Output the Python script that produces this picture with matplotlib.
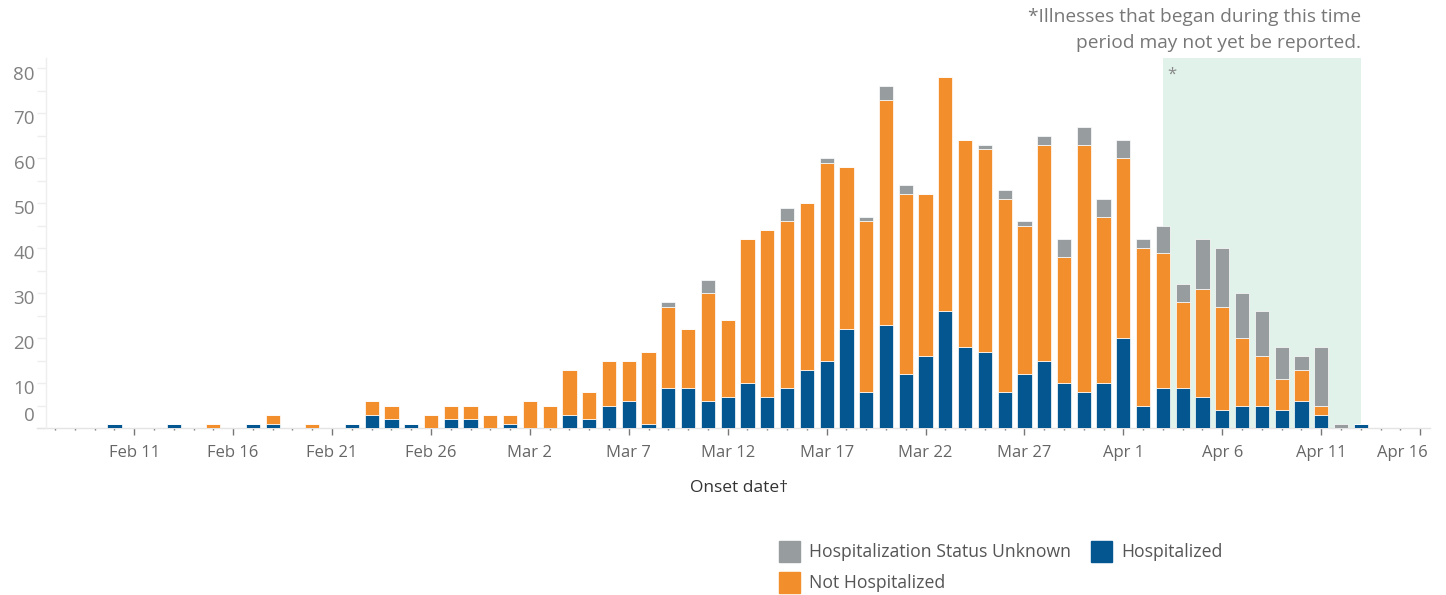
import matplotlib
matplotlib.use("Agg")
import matplotlib.pyplot as plt
import matplotlib.dates as mdates
import matplotlib.transforms as mtransforms
from matplotlib.patches import Rectangle
import numpy as np
import pandas as pd

plt.rcParams["font.family"] = ["Open Sans", "DejaVu Sans"]

# onset dates, Feb 10 .. Apr 13 2020
dates = pd.date_range("2020-02-10", "2020-04-13", freq="D")

hospitalized = [
    1, 0, 0, 1, 0, 0, 0, 1, 1, 0, 0, 0, 1, 3, 2, 1, 0, 2, 2, 0,            # Feb 10-29
    1, 0, 0, 3, 2, 5, 6, 1, 9, 9, 6, 7, 10, 7, 9, 13, 15, 22, 8, 23,       # Mar 1-20
    12, 16, 26, 18, 17, 8, 12, 15, 10, 8, 10,                             # Mar 21-31
    20, 5, 9, 9, 7, 4, 5, 5, 4, 6, 3, 0, 1,                                # Apr 1-13
]
not_hospitalized = [
    0, 0, 0, 0, 0, 1, 0, 0, 2, 0, 1, 0, 0, 3, 3, 0, 3, 3, 3, 3,
    2, 6, 5, 10, 6, 10, 9, 16, 18, 13, 24, 17, 32, 37, 37, 37, 44, 36, 38, 50,
    40, 36, 52, 46, 45, 43, 33, 48, 28, 55, 37,
    40, 35, 30, 19, 24, 23, 15, 11, 7, 7, 2, 0, 0,
]
unknown = [
    0, 0, 0, 0, 0, 0, 0, 0, 0, 0, 0, 0, 0, 0, 0, 0, 0, 0, 0, 0,
    0, 0, 0, 0, 0, 0, 0, 0, 1, 0, 3, 0, 0, 0, 3, 0, 1, 0, 1, 3,
    2, 0, 0, 0, 1, 2, 1, 2, 4, 4, 4,
    4, 2, 6, 4, 11, 13, 10, 10, 7, 3, 13, 1, 0,
]

series_names = ["Hospitalization Status Unknown", "Hospitalized", "Not Hospitalized"]
BLUE = "#03568f"
ORANGE = "#f28e2b"
GRAY = "#979c9e"
SHADE = "#e1f2ea"

W, H = 1446, 595
fig = plt.figure(figsize=(W / 100, H / 100), dpi=100)


def fx(px):
    return px / W


def fy(py):
    return 1 - py / H


# plot area in pixels
left, right, top, bottom = 46, 1430, 58, 428
ax = fig.add_axes([fx(left), fy(bottom), fx(right - left), (bottom - top) / H])

x = mdates.date2num(dates)
h = np.array(hospitalized)
nh = np.array(not_hospitalized)
unk = np.array(unknown)

bw = 0.72
ax.bar(x, h, width=bw, color=BLUE, edgecolor="white", linewidth=0.5, zorder=3)
ax.bar(x, nh, width=bw, bottom=h, color=ORANGE, edgecolor="white", linewidth=0.5, zorder=3)
ax.bar(x, unk, width=bw, bottom=h + nh, color=GRAY, edgecolor="white", linewidth=0.5, zorder=3)

# period that may not be fully reported
shade_start = mdates.date2num(pd.Timestamp("2020-04-03"))
shade_end = mdates.date2num(pd.Timestamp("2020-04-13"))
ax.axvspan(shade_start, shade_end, color=SHADE, zorder=1, lw=0)
ax.text(shade_start + 0.2, 78.6, "*", color="#888888", fontsize=12, va="center", zorder=4)

feb11 = mdates.date2num(pd.Timestamp("2020-02-11"))
apr16 = mdates.date2num(pd.Timestamp("2020-04-16"))
ax.set_xlim(feb11 - 4.46, apr16 + 0.5)
ax.set_ylim(0, 82.3)

for s in ["top", "right", "bottom"]:
    ax.spines[s].set_visible(False)
ax.spines["left"].set_color("#eeeeee")
ax.spines["left"].set_linewidth(1)
ax.plot([-9 / (right - left), 1], [0, 0], transform=ax.transAxes, color="#e4e4e4",
        lw=1, clip_on=False, zorder=2)

# y axis
ax.set_yticks(np.arange(0, 81, 10))
ax.set_yticks(np.arange(5, 81, 10), minor=True)
ax.tick_params(axis="y", which="both", length=6.5, width=1, color="#eeeeee",
               labelsize=13.5, labelcolor="#808080", pad=1.5)
for tl in ax.get_yticklabels():
    dy = 10 / 72 if tl.get_text() == "0" else -3 / 72
    tl.set_transform(tl.get_transform() + mtransforms.ScaledTranslation(0, dy, fig.dpi_scale_trans))

# x axis: label every 5 days, small dot each day
major = pd.date_range("2020-02-11", "2020-04-16", freq="5D")
ax.set_xticks(mdates.date2num(major))
ax.set_xticklabels([f"{d.strftime('%b')} {d.day}" for d in major])
minor = pd.date_range("2020-02-07", "2020-04-16", freq="D")
ax.set_xticks(mdates.date2num(minor), minor=True)
ax.tick_params(axis="x", which="major", length=5, width=1, color="#777777",
               labelsize=12, labelcolor="#666666", pad=7.5)
ax.tick_params(axis="x", which="minor", length=1.5, width=1, color="#777777")
# last label is pulled in so it stays inside the frame
last = ax.get_xticklabels()[-1]
last.set_transform(last.get_transform() + mtransforms.ScaledTranslation(-18 / 100, 0, fig.dpi_scale_trans))

fig.text(fx(739), fy(488), "Onset date\u2020", ha="center", va="center",
         fontsize=12.5, color="#333333")

# footnote
fig.text(fx(1361), fy(17), "*Illnesses that began during this time", ha="right",
         va="center", fontsize=13.8, color="#777777")
fig.text(fx(1361), fy(43), "period may not yet be reported.", ha="right",
         va="center", fontsize=13.8, color="#777777")

# legend
legend_items = [
    (series_names[0], GRAY, 779, 541),
    (series_names[1], BLUE, 1091, 541),
    (series_names[2], ORANGE, 779, 572),
]
for name, col, px, py in legend_items:
    fig.patches.append(Rectangle((fx(px), fy(py + 21)), 21 / W, 21 / H,
                                 transform=fig.transFigure, color=col))
    fig.text(fx(px + 30), fy(py + 11), name, ha="left", va="center",
             fontsize=12.7, color="#555555")

fig.savefig("out.png", dpi=100)
